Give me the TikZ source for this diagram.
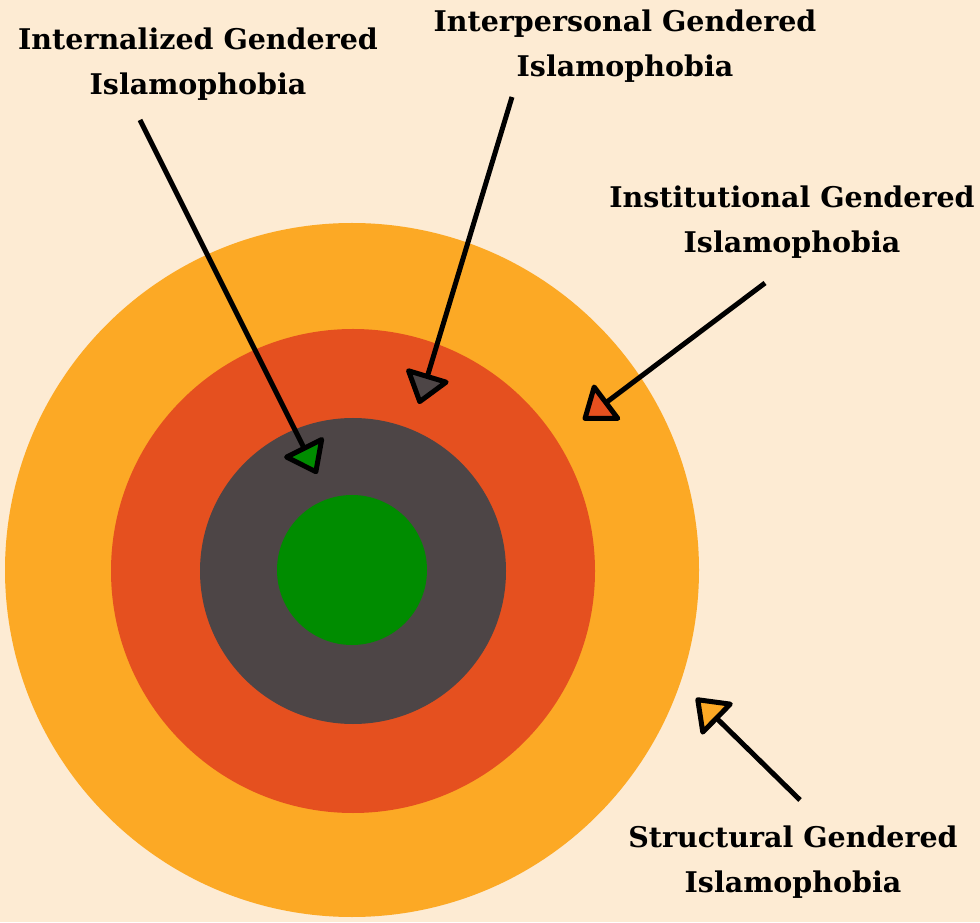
\documentclass[tikz,border=0pt]{standalone}
\usepackage{fontspec}
\setmainfont{DejaVu Serif}
\usepackage{tikz}
\usetikzlibrary{arrows.meta}
\definecolor{creambg}{HTML}{FDEBD3}
\definecolor{ringorange}{HTML}{FCA925}
\definecolor{ringred}{HTML}{E5501F}
\definecolor{ringgray}{HTML}{4D4546}
\definecolor{ringgreen}{HTML}{008C00}

\begin{document}
\begin{tikzpicture}[x=1pt,y=1pt,
    label/.style={align=center,font=\fontsize{28.5}{45}\selectfont\bfseries},
    pointer/.style={line width=5pt,draw=black,
        -{Triangle[length=33pt,width=48pt,round,fill=#1]}}
]
\fill[creambg] (0,0) rectangle (980,922);
\useasboundingbox (0,0) rectangle (980,922);

% rings
\fill[ringorange] (352,352) circle (347);
\fill[ringred] (353,351) circle (242);
\fill[ringgray] (353,351) circle (153);
\fill[ringgreen] (352,352) circle (75);

% labels
\node[label] (internal) at (198,858) {Internalized Gendered\\Islamophobia};
\node[label] (interpers) at (625,876) {Interpersonal Gendered\\Islamophobia};
\node[label] (institut) at (792,700) {Institutional Gendered\\Islamophobia};
\node[label] (structur) at (793,60) {Structural Gendered\\Islamophobia};

% arrow ends
\coordinate (from internal) at (140,802);
\coordinate (to internal) at (317,448);
\coordinate (from interpers) at (512,825);
\coordinate (to interpers) at (419,518);
\coordinate (from institut) at (765,639);
\coordinate (to institut) at (583,502);
\coordinate (from structur) at (800,122);
\coordinate (to structur) at (696,224);

\draw[pointer=ringgreen] (from internal) -- (to internal);
\draw[pointer=ringgray] (from interpers) -- (to interpers);
\draw[pointer=ringred] (from institut) -- (to institut);
\draw[pointer=ringorange] (from structur) -- (to structur);
\end{tikzpicture}
\end{document}
